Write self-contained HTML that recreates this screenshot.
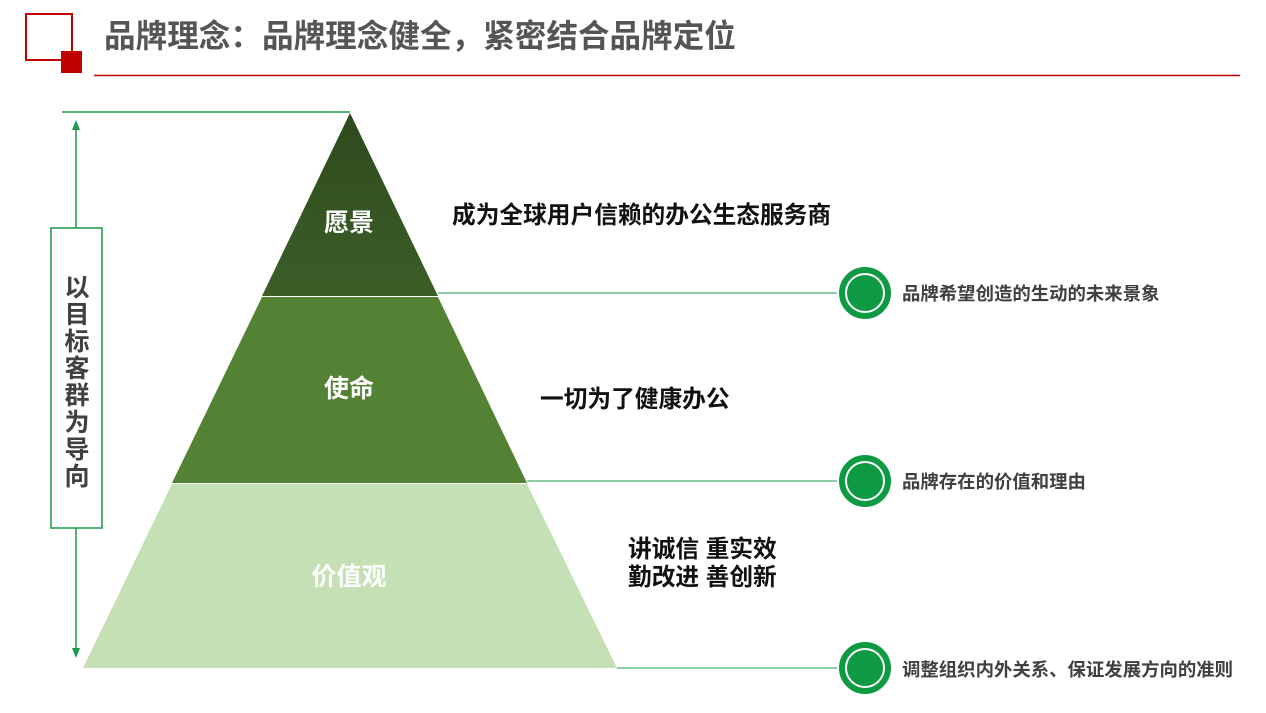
<!DOCTYPE html>
<html><head><meta charset="utf-8"><style>
body{margin:0;width:1266px;height:708px;background:#fff;overflow:hidden;font-family:"Liberation Sans","Noto Sans CJK SC",sans-serif}
</style></head><body>
<svg width="1266" height="708" xmlns="http://www.w3.org/2000/svg" style="font-family:'Liberation Sans','Noto Sans CJK SC',sans-serif;font-weight:bold">
<defs>
<linearGradient id="g1" x1="0" y1="0" x2="0" y2="1"><stop offset="0" stop-color="#2f4a1e"/><stop offset="1" stop-color="#3b5e27"/></linearGradient>
</defs>
<rect x="26" y="14" width="46" height="46" fill="none" stroke="#c00000" stroke-width="2"/>
<rect x="61" y="51" width="21" height="22" fill="#c00000"/>
<text x="104" y="47" font-size="31.6" fill="#555">品牌理念：品牌理念健全，紧密结合品牌定位</text>
<line x1="94" y1="75.5" x2="1240" y2="75.5" stroke="#c00000" stroke-width="1.5"/>
<line x1="62" y1="112" x2="350" y2="112" stroke="#1a9a4a" stroke-width="1.5"/>
<line x1="76" y1="128" x2="76" y2="650" stroke="#1a9a4a" stroke-width="1.5"/>
<polygon points="76,120 72,130 80,130" fill="#1a9a4a"/>
<polygon points="76,658 72,648 80,648" fill="#1a9a4a"/>
<rect x="51" y="228" width="51" height="300" fill="#fff" stroke="#1a9a4a" stroke-width="1.5"/>
<g font-size="25" fill="#404040" text-anchor="middle">
<text x="77" y="296">以</text><text x="77" y="323">目</text><text x="77" y="350">标</text><text x="77" y="377">客</text><text x="77" y="404">群</text><text x="77" y="431">为</text><text x="77" y="458">导</text><text x="77" y="485">向</text>
</g>
<polygon points="350,113 438,296 262,296" fill="url(#g1)"/>
<polygon points="262,297 438,297 527,483 172,483" fill="#548235"/>
<polygon points="172,484 527,484 617,668 83,668" fill="#c5e0b4"/>
<g font-size="25" fill="#fff" text-anchor="middle">
<text x="349" y="231">愿景</text><text x="349" y="397">使命</text><text x="349" y="585">价值观</text>
</g>
<g stroke="#1a9a4a" stroke-width="1">
<line x1="438" y1="293" x2="840" y2="293"/><line x1="527" y1="481" x2="840" y2="481"/><line x1="617" y1="668" x2="840" y2="668"/>
</g>
<g fill="#0e9a43" stroke="#fff" stroke-width="2">
<circle cx="865" cy="293" r="27"/><circle cx="865" cy="481" r="27"/><circle cx="865" cy="668" r="27"/>
</g>
<g fill="none" stroke="#fff" stroke-width="2">
<circle cx="865" cy="293" r="19"/><circle cx="865" cy="481" r="19"/><circle cx="865" cy="668" r="19"/>
</g>
<g font-size="18.4" fill="#404040">
<text x="902" y="300">品牌希望创造的生动的未来景象</text>
<text x="902" y="488">品牌存在的价值和理由</text>
<text x="902" y="676">调整组织内外关系、保证发展方向的准则</text>
</g>
<g font-size="23.7" fill="#111">
<text x="452" y="223">成为全球用户信赖的办公生态服务商</text>
<text x="540" y="407">一切为了健康办公</text>
<text x="628" y="557">讲诚信 重实效</text>
<text x="628" y="585">勤改进 善创新</text>
</g>
</svg>
</body></html>
